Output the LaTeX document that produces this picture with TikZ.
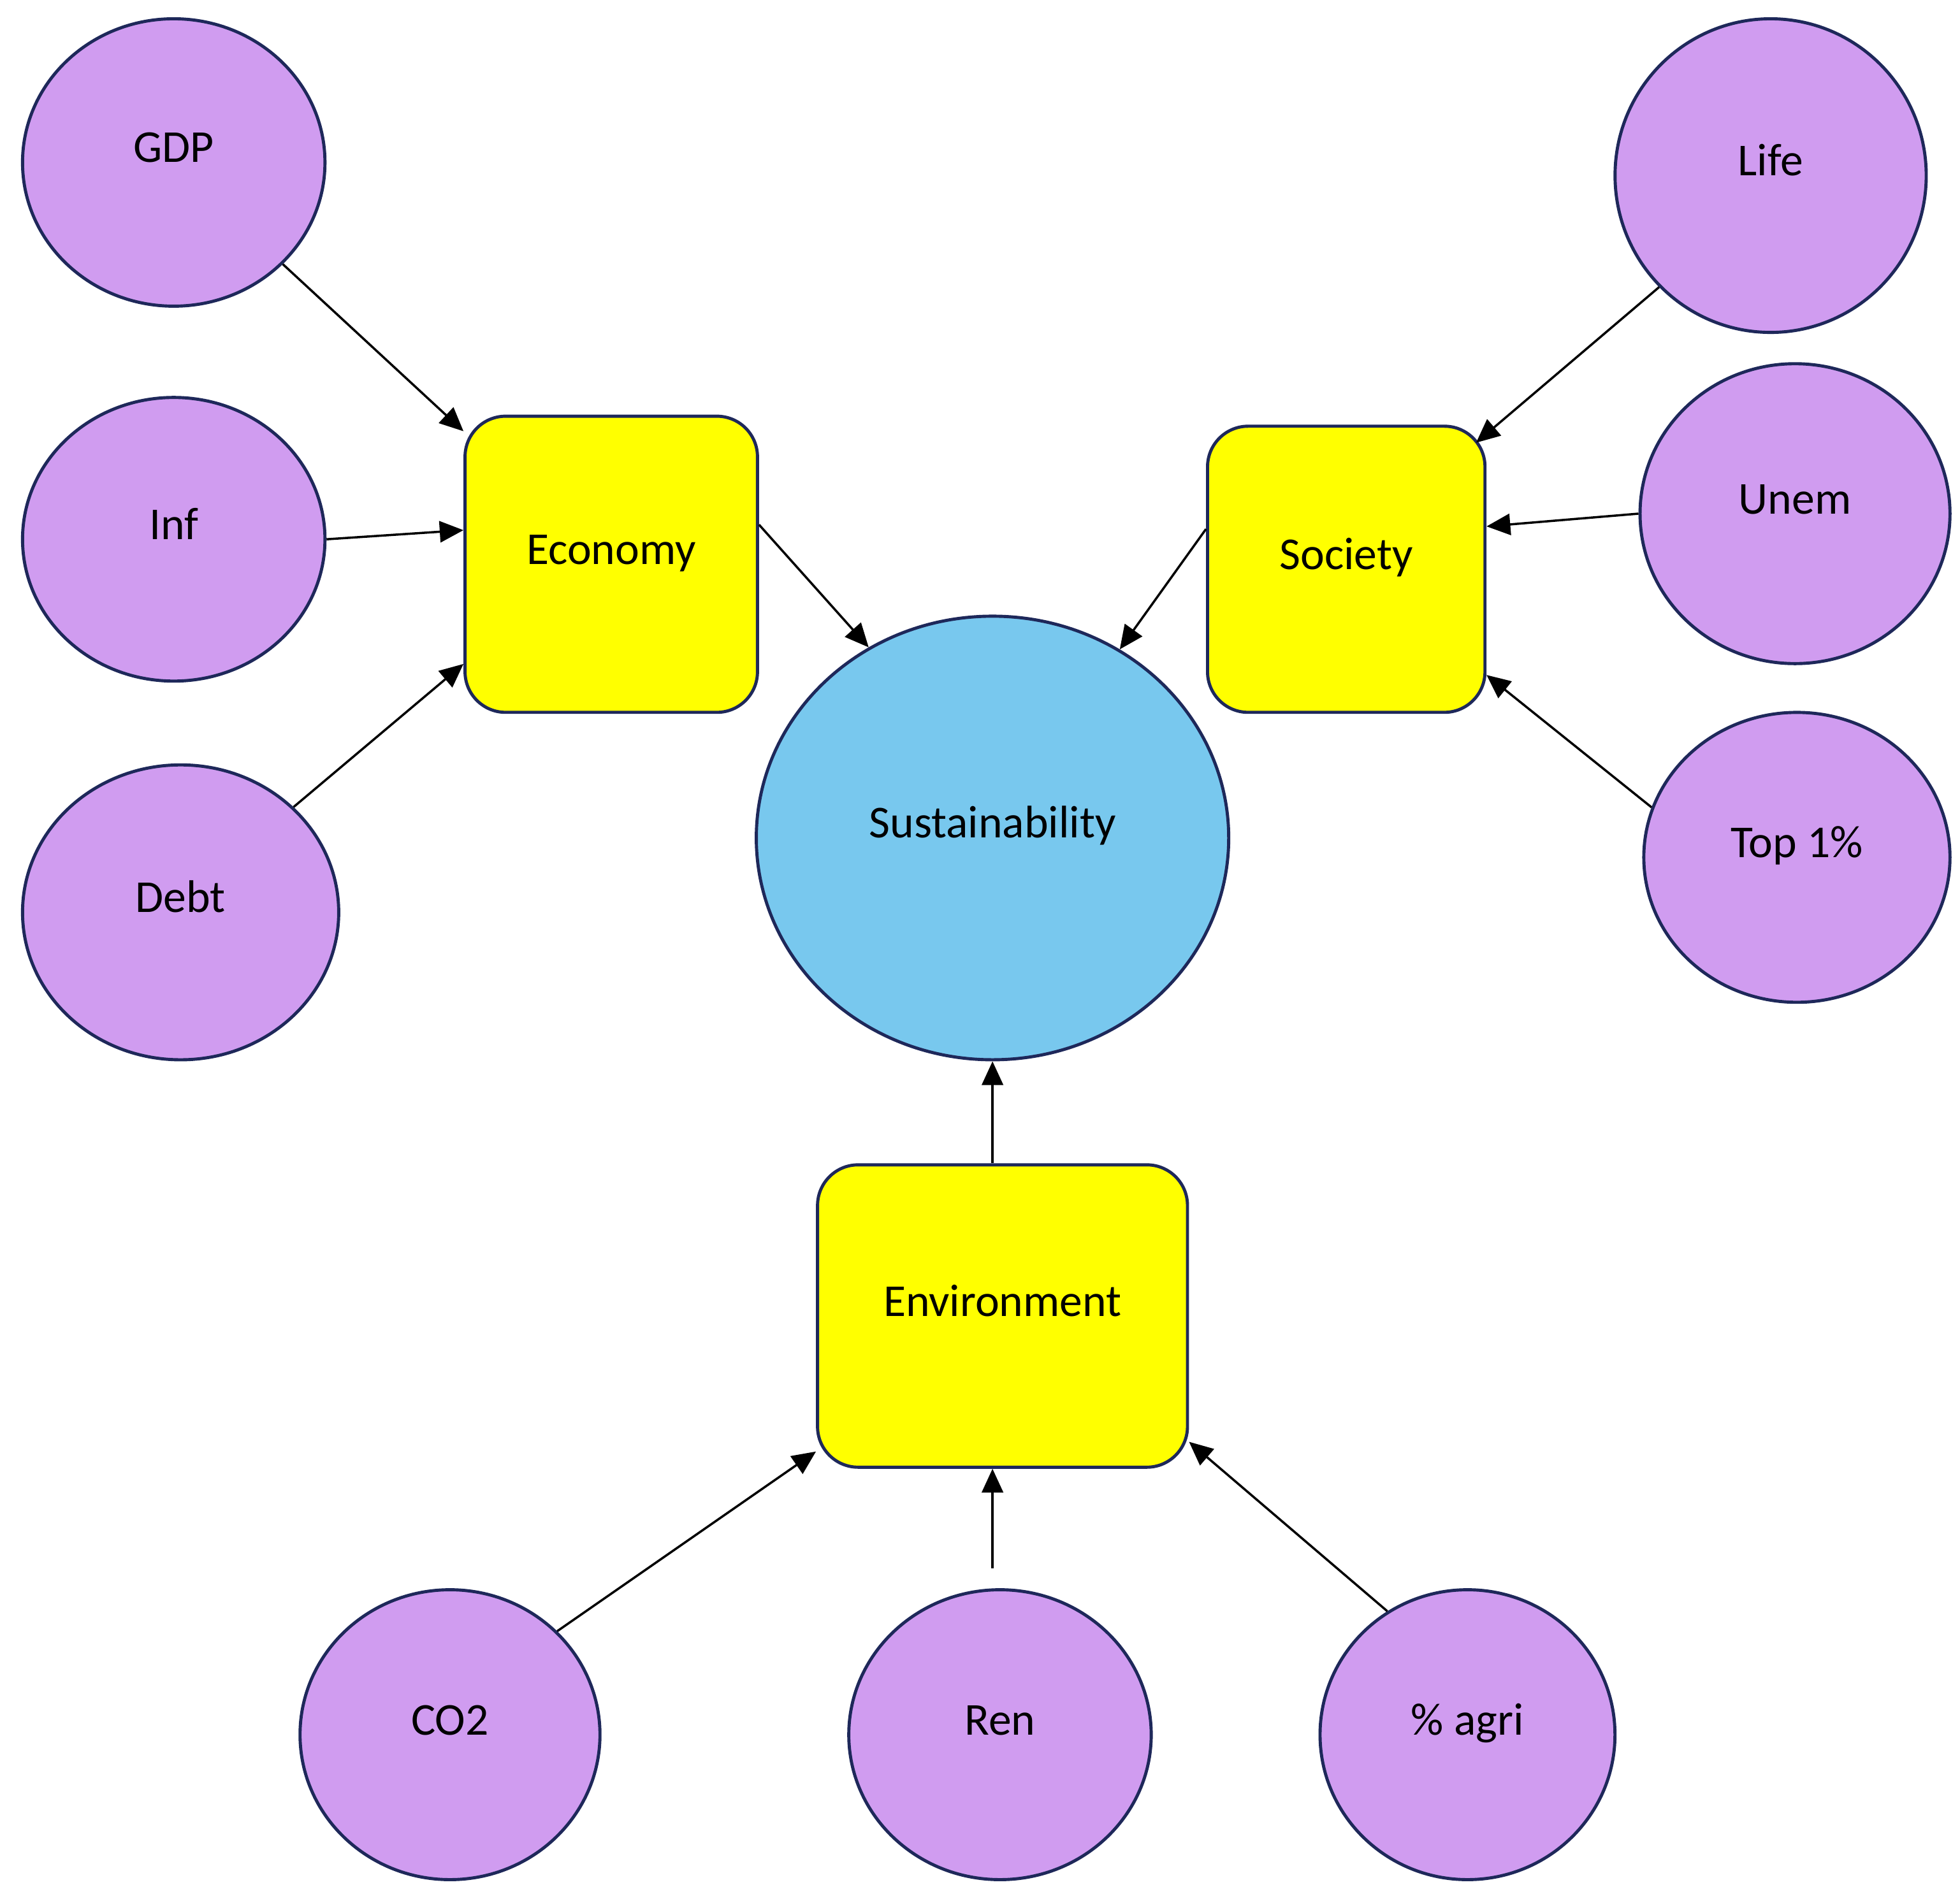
\documentclass[tikz,border=0pt]{standalone}
\usepackage{fontspec}
\setmainfont{Carlito}
\usetikzlibrary{shapes.geometric,arrows.meta}
\definecolor{purp}{RGB}{208,156,240}
\definecolor{skyb}{RGB}{120,200,238}
\definecolor{yel}{RGB}{255,255,0}
\definecolor{edgec}{RGB}{30,40,90}
\begin{document}
\begin{tikzpicture}[x=0.02cm,y=-0.02cm,
  base/.style={draw=edgec, line width=0.05cm, inner sep=0pt, text height=0pt, text depth=0pt, font=\fontsize{20.8}{25}\selectfont},
  ind/.style={base, ellipse, fill=purp},
  dimbox/.style={base, rectangle, rounded corners=0.65cm, fill=yel},
  goal/.style={base, ellipse, fill=skyb},
  arr/.style={-{Triangle[length=0.38cm,width=0.34cm]}, line width=0.036cm, black}]
\fill[white] (0,0) rectangle (1568,1521);
\useasboundingbox (0,0) rectangle (1568,1521);

% indicator ellipses
\node[ind, minimum width=4.84cm, minimum height=4.6cm]  (gdp)  at (139,130)    {GDP};
\node[ind, minimum width=4.84cm, minimum height=4.54cm] (inf)  at (139,431.5)  {Inf};
\node[ind, minimum width=5.06cm, minimum height=4.72cm] (debt) at (144.5,730)  {Debt};
\node[ind, minimum width=4.98cm, minimum height=5.02cm] (life) at (1416.5,140.5) {Life};
\node[ind, minimum width=4.96cm, minimum height=4.8cm]  (unem) at (1436,411)   {Unem};
\node[ind, minimum width=4.9cm,  minimum height=4.64cm] (top)  at (1437.5,686) {Top 1\%};
\node[ind, minimum width=4.8cm,  minimum height=4.64cm] (co2)  at (360,1388)   {CO2};
\node[ind, minimum width=4.84cm, minimum height=4.64cm] (ren)  at (800,1388)   {Ren};
\node[ind, minimum width=4.72cm, minimum height=4.64cm] (agri) at (1174,1388)  {\% agri};

% dimension boxes
\node[dimbox, minimum width=4.68cm, minimum height=4.74cm] (eco) at (489,451.5) {Economy};
\node[dimbox, minimum width=4.44cm, minimum height=4.58cm] (soc) at (1077,455.5) {Society};
\node[dimbox, minimum width=5.92cm, minimum height=4.84cm] (env) at (802,1053) {Environment};

% goal
\node[goal, minimum width=7.56cm, minimum height=7.1cm] (sus) at (794,670.5) {Sustainability};

% connectors
\draw[arr] (gdp.-43.7) -- (eco.138.2);
\draw[arr] (inf.0) -- (eco.167);
\draw[arr] (debt.43.9) -- (eco.214.4);
\draw[arr] (eco.15.1) -- (sus.123.9);
\draw[arr] (soc.164.2) -- (sus.56.1);
\draw[arr, shorten >=-0.22cm] (life.225.3) -- (soc.44.3);
\draw[arr] (unem.180) -- (soc.17.7);
\draw[arr] (top.161.4) -- (soc.-37.1);
\draw[arr] (env.north -| sus.south) -- (sus.south);
\draw[arr, shorten <=0.32cm] (ren.north -| sus.south) -- (env.south -| sus.south);
\draw[arr] (co2.44) -- (env.-144.8);
\draw[arr] (agri.123.1) -- (env.-34.9);
\end{tikzpicture}
\end{document}
